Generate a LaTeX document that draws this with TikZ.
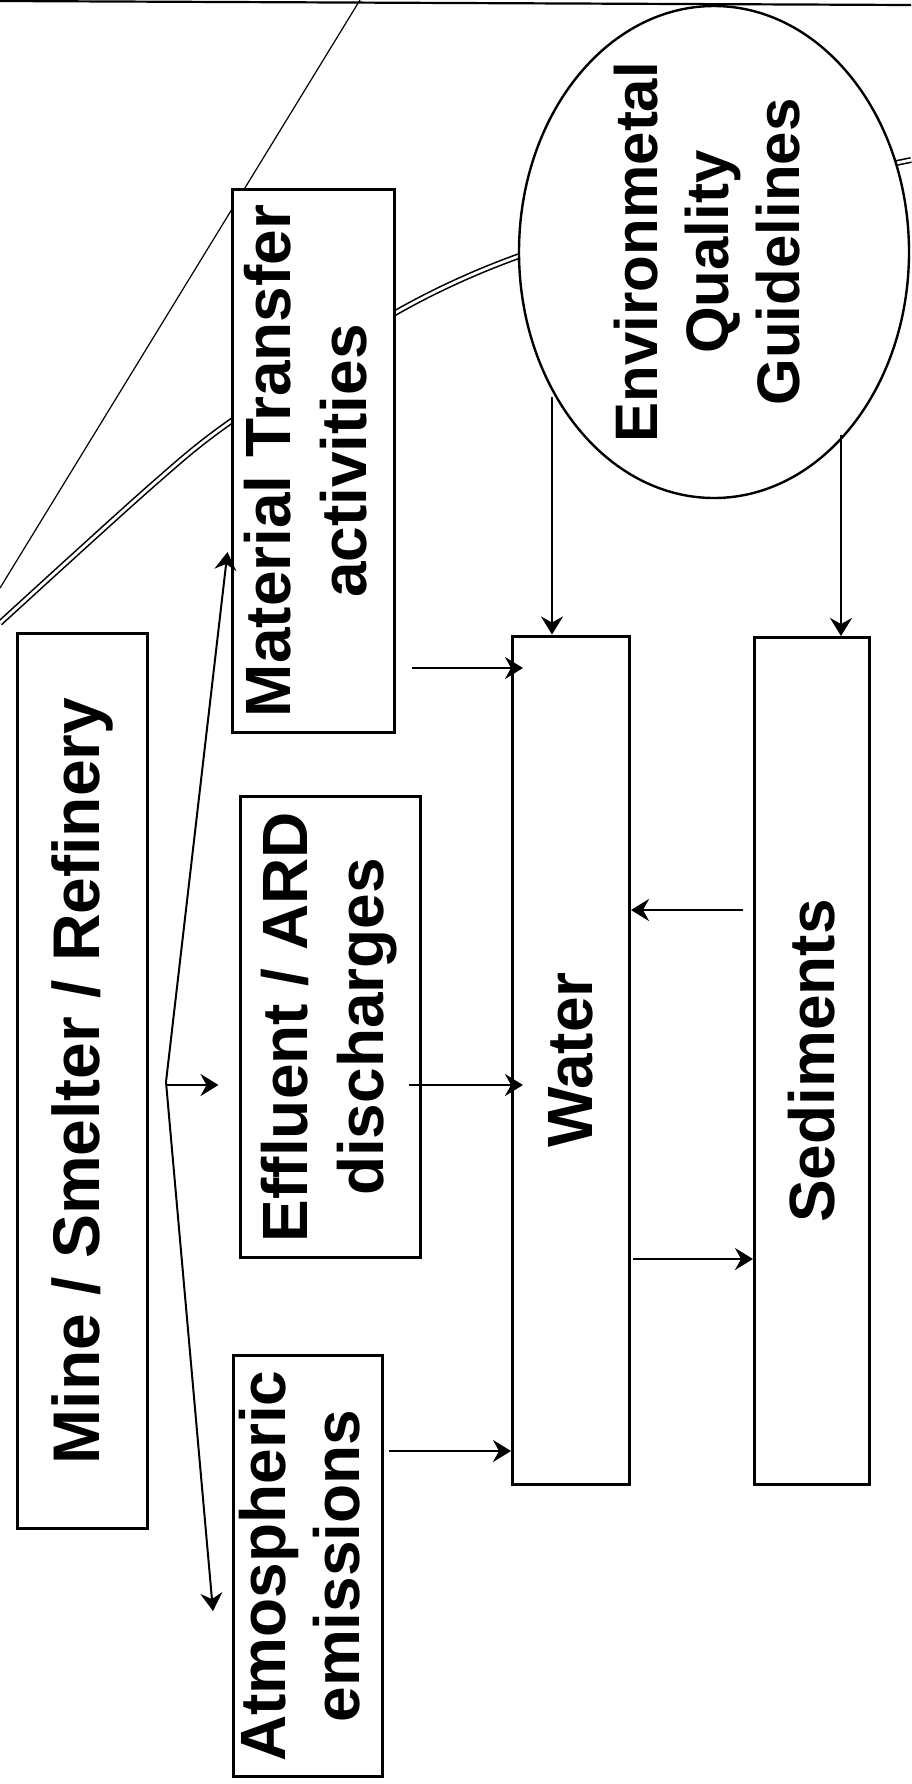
\documentclass[tikz,border=0pt]{standalone}
\usepackage{fontspec}
\setmainfont{Liberation Sans}
\usepackage{graphicx}
\usetikzlibrary{shapes.geometric,arrows.meta,calc}
\begin{document}
\begin{tikzpicture}[x=0.5pt,y=-0.5pt,
  box/.style={draw, line width=1.5pt, fill=white, inner sep=0pt, rectangle},
  arr/.style={line width=1.2pt, -{Stealth[length=9pt,width=11pt,inset=3pt]}},
  fanline/.style={line width=1pt, -{Stealth[length=9pt,width=11pt,inset=3pt]}},
  lbl/.style={font=\bfseries\fontsize{32}{38}\selectfont},
  scanline/.style={line width=0.6pt}]
\useasboundingbox (0,0) rectangle (911,1784);

% background scan lines
\draw[line width=1.1pt] (0,1) -- (911,5);
\draw[scanline] (360,0) -- (0,588);
\draw[double, double distance=1.4pt, line width=0.8pt]
  plot[smooth, tension=0.5] coordinates {(911,160) (700,205) (522,255) (395,313) (230,422) (150,487) (0,623)};

% nodes
\node[box, minimum width=65pt, minimum height=447.5pt,
      font=\bfseries\fontsize{33}{39}\selectfont] (mine) at (82,1081)
  {\rotatebox{90}{Mine / Smelter / Refinery}};
\node[box, lbl, minimum width=81pt, minimum height=271.5pt] (mat) at (313,461)
  {\rotatebox{90}{\begin{tabular}{@{}c@{}}Material Transfer\\activities\end{tabular}}};
\node[box, lbl, minimum width=90pt, minimum height=230.5pt] (eff) at (330,1027)
  {\rotatebox{90}{\begin{tabular}{@{}c@{}}Effluent / ARD\\discharges\end{tabular}}};
\node[box, minimum width=74.5pt, minimum height=210.5pt,
      font=\bfseries\fontsize{32}{37}\selectfont] (atm) at (308,1566)
  {\rotatebox{90}{\begin{tabular}{@{}c@{}}Atmospheric\\emissions\end{tabular}}};
\node[box, lbl, minimum width=58.5pt, minimum height=424pt] (water) at (571,1060)
  {\rotatebox{90}{Water}};
\node[box, lbl, minimum width=57.5pt, minimum height=423.5pt] (sed) at (812,1061)
  {\rotatebox{90}{Sediments}};
\node[ellipse, draw, line width=1.2pt, fill=white, inner sep=0pt,
      minimum width=195pt, minimum height=246pt,
      label={[font=\bfseries\fontsize{30}{35.5}\selectfont]center:{\rotatebox{90}{\begin{tabular}{@{}c@{}}Environmetal\\Quality\\Guidelines\end{tabular}}}}]
  (egl) at (714,252) {};

% connectors
\coordinate (fan) at (166,1082);
\coordinate (matin) at ($(mat.south west)+(-3,-182)$);
\coordinate (atmin) at ($(atm.north west)+(-19,257)$);
\draw[fanline] (fan) -- (matin);
\draw[fanline] (fan) -- (atmin);
\draw[arr] (fan |- 0,1085) -- ($(eff.west |- 0,1085)+(-20,0)$);

\draw[arr] ($(mat.east |- 0,668)+(16,0)$) -- ($(water.west |- 0,668)+(12,0)$);
\draw[arr] ($(eff.east |- 0,1085)+(-13,0)$) -- ($(water.west |- 0,1085)+(12,0)$);
\draw[arr] ($(atm.east |- 0,1451)+(5,0)$) -- (water.west |- 0,1451);
\draw[arr] ($(sed.west |- 0,910)+(-10,0)$) -- (water.east |- 0,910);
\draw[arr] ($(water.east |- 0,1259)+(2,0)$) -- (sed.west |- 0,1259);
\draw[arr] ($(egl.center)+(-162,145)$) -- (water.north -| 552,0);
\draw[arr] ($(egl.center)+(127,183)$) -- (sed.north -| 841,0);
\end{tikzpicture}
\end{document}
